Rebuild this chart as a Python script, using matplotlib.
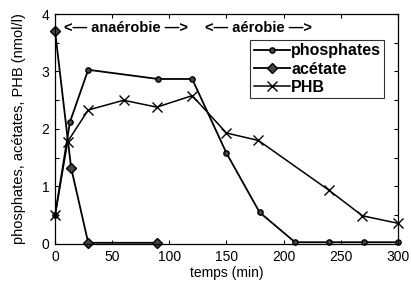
import matplotlib.pyplot as plt
from matplotlib.ticker import MultipleLocator

plt.rcParams['font.family'] = ['Liberation Sans', 'DejaVu Sans']

# data
t_phos = [0, 13, 29, 90, 120, 150, 179, 210, 240, 270, 300]
phosphates = [0.5, 2.12, 3.03, 2.87, 2.87, 1.58, 0.55, 0.03, 0.03, 0.03, 0.03]

t_acet = [0, 14, 29, 89]
acetate = [3.7, 1.33, 0.02, 0.02]

t_phb = [0, 11, 29, 60, 89, 120, 150, 178, 240, 269, 300]
phb = [0.5, 1.78, 2.33, 2.5, 2.38, 2.58, 1.93, 1.8, 0.93, 0.49, 0.36]

xticks = [0, 50, 100, 150, 200, 250, 300]
yticks = [0, 1, 2, 3, 4]


def main():
    fig = plt.figure(figsize=(4.11, 2.86), dpi=100)
    ax = fig.add_axes([0.134, 0.147, 0.834, 0.804])

    ax.plot(t_phos, phosphates, color='k', lw=1.3, marker='o', ms=3.8,
            mfc='#444444', mec='k', label='phosphates', clip_on=False)
    ax.plot(t_acet, acetate, color='k', lw=1.3, marker='D', ms=4.8,
            mfc='#444444', mec='k', label='acétate', clip_on=False)
    ax.plot(t_phb, phb, color='k', lw=1.1, marker='x', ms=7, mew=1.0,
            label='PHB', clip_on=False)

    ax.set_xlim(0, 300)
    ax.set_ylim(0, 4)
    ax.set_xticks(xticks)
    ax.set_yticks(yticks)
    ax.yaxis.set_minor_locator(MultipleLocator(0.5))
    ax.tick_params(which='both', direction='in', top=True, right=True,
                   length=3, width=0.8, labelsize=10, pad=4)
    for s in ax.spines.values():
        s.set_linewidth(0.9)

    ax.set_xlabel('temps (min)', fontsize=10, labelpad=2)
    ax.set_ylabel('phosphates, acétates, PHB (nmol/l)', fontsize=10.5,
                  labelpad=11)

    ax.text(8, 3.76, '<— anaérobie —>', fontsize=10.5, fontweight='bold',
            va='center', ha='left')
    ax.text(131, 3.76, '<— aérobie —>', fontsize=10.5, fontweight='bold',
            va='center', ha='left')

    leg = ax.legend(loc='upper right', bbox_to_anchor=(0.97, 0.9),
                    fontsize=11.5, frameon=True, fancybox=False,
                    handlelength=2.3, handletextpad=0.05, borderpad=0.2,
                    labelspacing=0.2, borderaxespad=0.2)
    leg.get_frame().set_edgecolor('k')
    leg.get_frame().set_linewidth(0.8)
    for txt in leg.get_texts():
        txt.set_fontweight('bold')

    fig.savefig('out.png', dpi=100)


if __name__ == '__main__':
    main()
